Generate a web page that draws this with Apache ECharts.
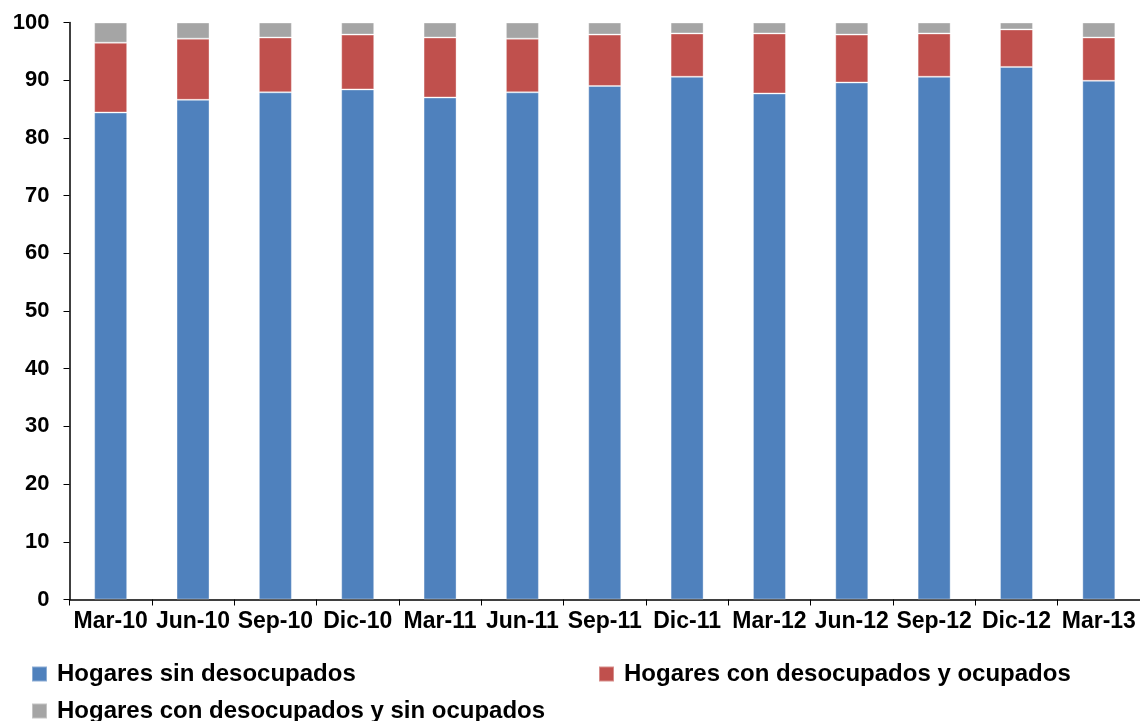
<!DOCTYPE html>
<html>
<head>
<meta charset="utf-8">
<script src="https://cdn.jsdelivr.net/npm/echarts@6/dist/echarts.min.js"></script>
<style>
html,body{margin:0;padding:0;background:#fff;}
#c{width:1140px;height:721px;}
</style>
</head>
<body>
<div id="c"></div>
<script>
const categories = ['Mar-10','Jun-10','Sep-10','Dic-10','Mar-11','Jun-11','Sep-11','Dic-11','Mar-12','Jun-12','Sep-12','Dic-12','Mar-13'];
const sinDesocupados = [84.4, 86.6, 87.9, 88.4, 87.0, 87.9, 89.0, 90.6, 87.7, 89.6, 90.6, 92.3, 89.9];
const conDesocYOcup = [12.1, 10.6, 9.5, 9.5, 10.4, 9.3, 8.9, 7.5, 10.4, 8.3, 7.5, 6.5, 7.5];
const conDesocSinOcup = [3.5, 2.8, 2.6, 2.1, 2.6, 2.8, 2.1, 1.9, 1.9, 2.1, 1.9, 1.2, 2.6];
const yTicks = [0,10,20,30,40,50,60,70,80,90,100];

const names = ['Hogares sin desocupados','Hogares con desocupados y ocupados','Hogares con desocupados y sin ocupados'];
const colors = ['#4F81BD','#C0504D','#A5A5A5'];
const font = 'Liberation Sans, Arial, sans-serif';

const chart = echarts.init(document.getElementById('c'));
const legendText = {fontFamily: font, fontWeight: 'bold', fontSize: 24, color: '#000', padding: [0,0,0,5]};
chart.setOption({
  animation: false,
  color: colors,
  grid: {left: 69.5, right: 0, top: 22.5, bottom: 121.5},
  legend: [
    {data: [names[0]], left: 26, top: 657, itemWidth: 15, itemHeight: 15, textStyle: legendText, icon: 'rect'},
    {data: [names[1]], left: 593, top: 657, itemWidth: 15, itemHeight: 15, textStyle: legendText, icon: 'rect'},
    {data: [names[2]], left: 26, top: 694, itemWidth: 15, itemHeight: 15, textStyle: legendText, icon: 'rect'}
  ],
  xAxis: {
    type: 'category',
    data: categories,
    axisLine: {lineStyle: {color: '#000', width: 1.5}},
    axisTick: {show: true, length: 6, lineStyle: {color: '#000'}},
    axisLabel: {color: '#000', fontFamily: font, fontWeight: 'bold', fontSize: 23, margin: 11, interval: 0}
  },
  yAxis: {
    type: 'value',
    min: yTicks[0],
    max: yTicks[yTicks.length-1],
    interval: 10,
    axisLine: {show: true, lineStyle: {color: '#000', width: 1.5}},
    axisTick: {show: true, length: 6, lineStyle: {color: '#000'}},
    splitLine: {show: false},
    axisLabel: {color: '#000', fontFamily: font, fontWeight: 'bold', fontSize: 22, margin: 20}
  },
  series: [
    {name: names[0], type: 'bar', stack: 'a', data: sinDesocupados, barWidth: 33, itemStyle: {color: colors[0], borderColor: 'rgba(255,255,255,0.35)', borderWidth: 1}},
    {name: names[1], type: 'bar', stack: 'a', data: conDesocYOcup, barWidth: 33, itemStyle: {color: colors[1], borderColor: 'rgba(255,255,255,0.35)', borderWidth: 1}},
    {name: names[2], type: 'bar', stack: 'a', data: conDesocSinOcup, barWidth: 33, itemStyle: {color: colors[2], borderColor: 'rgba(255,255,255,0.35)', borderWidth: 1}}
  ]
});
</script>
</body>
</html>
